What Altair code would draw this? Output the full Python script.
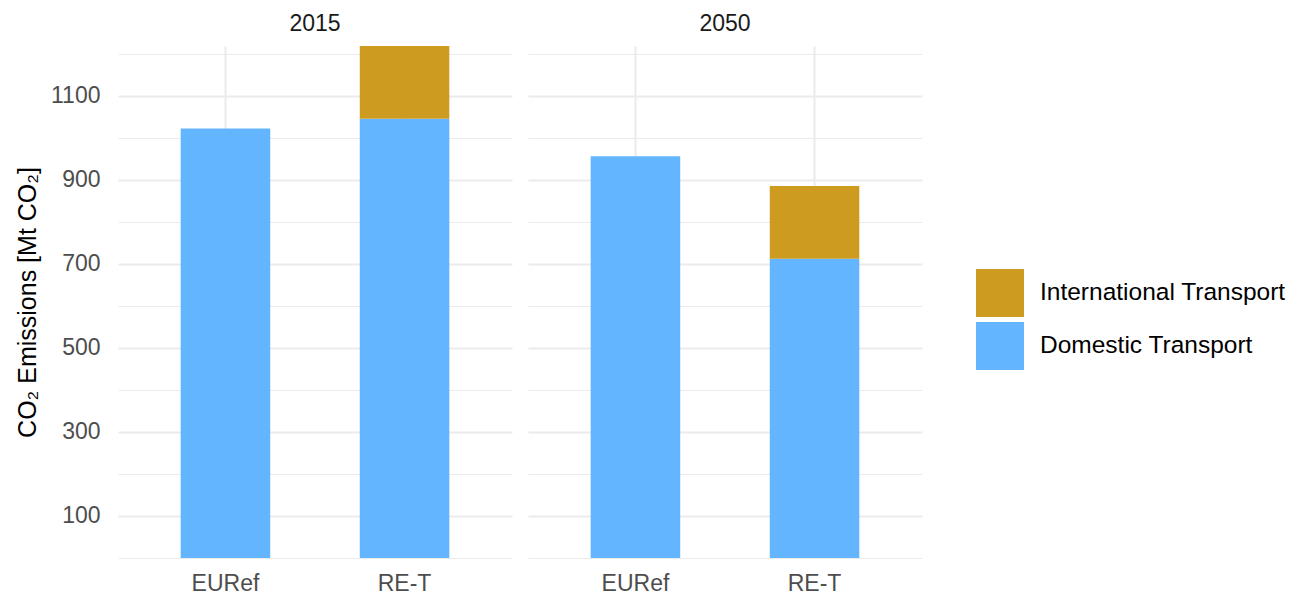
import altair as alt
import pandas as pd

years = ["2015", "2015", "2050", "2050"]
scenarios = ["EURef", "RE-T", "EURef", "RE-T"]
domestic = [1022, 1045, 956, 712]
international = [0, 173, 0, 173]

series = ["International Transport", "Domestic Transport"]
colors = ["#CC9B1F", "#64B5FF"]

rows = []
for y, s, d, i in zip(years, scenarios, domestic, international):
    rows.append({"year": y, "scenario": s, "type": "Domestic Transport", "value": d, "ord": 0})
    if i > 0:
        rows.append({"year": y, "scenario": s, "type": "International Transport", "value": i, "ord": 1})
df = pd.DataFrame(rows)

FONT = "Liberation Sans"

bars = alt.Chart(df).mark_bar().encode(
    x=alt.X("scenario:N", title=None,
            scale=alt.Scale(paddingInner=0.5, paddingOuter=0.35),
            axis=alt.Axis(labelAngle=0, labelFontSize=23, labelColor="#4D4D4D",
                          labelPadding=14, ticks=False, tickSize=0, domain=False,
                          grid=True, gridColor="#EBEBEB", gridWidth=2, labelFont=FONT)),
    y=alt.Y("value:Q", stack="zero",
            title="CO\u2082 Emissions [Mt CO\u2082]",
            scale=alt.Scale(domain=[0, 1218], nice=False, zero=True),
            axis=alt.Axis(values=list(range(0, 1201, 100)), format="d",
                          labelExpr="datum.value % 200 == 100 ? datum.label : ''",
                          labelFontSize=23, labelColor="#4D4D4D", labelPadding=18,
                          labelFont=FONT, ticks=False, tickSize=0, domain=False,
                          gridColor="#EBEBEB",
                          gridWidth={"condition": {"test": "datum.value % 200 == 100", "value": 2.2}, "value": 1.2},
                          titleFontSize=25, titleFont=FONT, titleColor="#000000",
                          titleFontWeight="normal", titlePadding=10)),
    color=alt.Color("type:N", title=None,
                    scale=alt.Scale(domain=series, range=colors),
                    legend=alt.Legend(orient="none", legendX=858, legendY=223,
                                      symbolType="square", symbolSize=2304,
                                      symbolStrokeWidth=0, symbolOpacity=1,
                                      labelFontSize=24.5, labelFont=FONT, labelColor="#000000",
                                      labelOffset=16, rowPadding=5, labelLimit=400)),
    order=alt.Order("ord:Q"),
).properties(width=394, height=512)

chart = bars.facet(
    column=alt.Column("year:N", title=None,
                      header=alt.Header(labelFontSize=23, labelFont=FONT, labelColor="#1A1A1A",
                                        labelPadding=10))
).properties(
    spacing=16,
    padding={"top": 5, "left": 7, "right": 5, "bottom": 0},
).configure(font=FONT).configure_view(stroke=None, strokeWidth=0)

chart.save("out.html", embed_options={"renderer": "svg", "actions": False})
